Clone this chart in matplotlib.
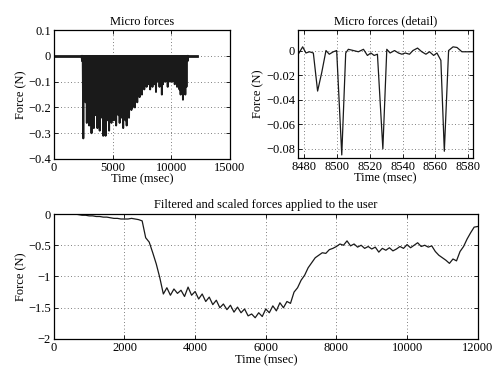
import numpy as np
import matplotlib
matplotlib.use("Agg")
import matplotlib.pyplot as plt

plt.rcParams['font.family'] = ['Liberation Serif', 'DejaVu Serif']
plt.rcParams['font.size'] = 9.0
plt.rcParams['axes.unicode_minus'] = True

LABEL_FS = 9.0

# ---------------- data ----------------
# Micro forces: spike depths, one per 100 ms from 2400 to 11400 ms
micro_t_start = 2400
micro_t_step = 100
micro_depths = [
    -0.02, -0.32, -0.15, -0.18, -0.26, -0.14, -0.27, -0.22, -0.30, -0.19,
    -0.28, -0.23, -0.18, -0.28, -0.22, -0.29, -0.17, -0.24, -0.31, -0.22,
    -0.31, -0.20, -0.25, -0.29, -0.18, -0.26, -0.21, -0.25, -0.19, -0.27,
    -0.22, -0.23, -0.26, -0.19, -0.24, -0.28, -0.21, -0.25, -0.27, -0.19,
    -0.24, -0.18, -0.21, -0.20, -0.16, -0.20, -0.14, -0.18, -0.12, -0.16,
    -0.11, -0.15, -0.12, -0.13, -0.09, -0.12, -0.05, -0.11, -0.13, -0.08,
    -0.12, -0.09, -0.11, -0.14, -0.10, -0.08, -0.12, -0.09, -0.15, -0.11,
    -0.07, -0.10, -0.09, -0.12, -0.08, -0.10, -0.06, -0.10, -0.09, -0.11,
    -0.08, -0.12, -0.10, -0.13, -0.15, -0.12, -0.17, -0.14, -0.15, -0.12,
    -0.02,
]
micro_baseline_t = [0, 12200]
micro_baseline_f = [0.0, 0.0]

# Micro forces detail
detail_t = [8477.0, 8479.2, 8481.2, 8483.3, 8485.7, 8488.3, 8490.8, 8493.4, 8495.4,
            8497.9, 8499.9, 8503.0, 8505.4, 8507.0, 8510.1, 8513.1, 8516.2, 8518.6,
            8520.7, 8522.7, 8524.7, 8528.0, 8530.4, 8532.4, 8535.1, 8537.5, 8539.6,
            8541.6, 8544.2, 8546.3, 8549.1, 8551.7, 8554.2, 8556.4, 8558.9, 8560.9,
            8563.3, 8565.4, 8568.0, 8570.7, 8573.1, 8576.1, 8581.2, 8582.6]
detail_f = [-0.002, 0.003, -0.002, -0.001, -0.002, -0.033, -0.018, 0.000, -0.003,
            -0.001, 0.000, -0.085, -0.002, 0.001, 0.000, -0.001, 0.001, -0.004,
            -0.002, -0.004, -0.003, -0.080, 0.001, -0.002, 0.000, -0.002, -0.003,
            -0.002, -0.003, 0.000, 0.002, -0.001, -0.003, -0.001, -0.004, -0.002,
            -0.008, -0.082, 0.000, 0.003, 0.0025, -0.001, -0.001, -0.001]

# Filtered and scaled forces, one sample per 100 ms from 600 to 12000 ms
filt_t_start = 600
filt_t_step = 100
filt_f = [
    0.00, -0.01, -0.02, -0.02, -0.03, -0.03, -0.04, -0.04, -0.05, -0.05,
    -0.06, -0.07, -0.07, -0.08, -0.08, -0.08, -0.07, -0.08, -0.09, -0.11,
    -0.38, -0.45, -0.62, -0.80, -1.02, -1.28, -1.18, -1.30, -1.20, -1.27,
    -1.22, -1.32, -1.17, -1.30, -1.24, -1.36, -1.28, -1.40, -1.33, -1.45,
    -1.38, -1.50, -1.44, -1.53, -1.46, -1.57, -1.49, -1.58, -1.52, -1.63,
    -1.60, -1.66, -1.58, -1.64, -1.52, -1.58, -1.47, -1.55, -1.42, -1.50,
    -1.40, -1.43, -1.25, -1.18, -1.06, -0.98, -0.86, -0.78, -0.70, -0.66,
    -0.62, -0.63, -0.57, -0.55, -0.52, -0.48, -0.50, -0.43, -0.51, -0.48,
    -0.53, -0.50, -0.55, -0.52, -0.56, -0.53, -0.61, -0.55, -0.58, -0.54,
    -0.59, -0.56, -0.52, -0.55, -0.49, -0.54, -0.50, -0.46, -0.52, -0.50,
    -0.53, -0.51, -0.60, -0.66, -0.70, -0.74, -0.79, -0.72, -0.75, -0.60,
    -0.52, -0.40, -0.30, -0.21, -0.20,
]

# ---------------- figure ----------------
fig = plt.figure(figsize=(4.94, 3.66), dpi=100)
ax1 = fig.add_axes([0.1093, 0.5656, 0.356, 0.352])
ax2 = fig.add_axes([0.603, 0.5683, 0.354, 0.350])
ax3 = fig.add_axes([0.109, 0.0738, 0.858, 0.3415])

def style(ax):
    ax.grid(True, linestyle=(0, (1, 3)), color='#555555', linewidth=0.6)
    ax.tick_params(direction='in', length=3, width=0.6, top=True, right=True, pad=2)
    for s in ax.spines.values():
        s.set_linewidth(0.9)

# Micro forces
mt = micro_t_start + micro_t_step * np.arange(len(micro_depths))
xs = np.repeat(mt, 2).astype(float)
xs[1::2] += micro_t_step * 0.5
ys = np.zeros_like(xs)
ys[0::2] = micro_depths
ax1.plot(micro_baseline_t, micro_baseline_f, color='#1a1a1a', linewidth=2.0)
ax1.plot(np.concatenate([[mt[0] - 50], xs]), np.concatenate([[0.0], ys]),
         color='#1a1a1a', linewidth=1.4)
ax1.set_xlim(0, 15000)
ax1.set_ylim(-0.4, 0.1)
ax1.set_xticks([0, 5000, 10000, 15000])
ax1.set_yticks([-0.4, -0.3, -0.2, -0.1, 0, 0.1])
ax1.set_yticklabels(['\u22120.4', '\u22120.3', '\u22120.2', '\u22120.1', '0', '0.1'])
ax1.set_title('Micro forces', pad=4, fontsize=LABEL_FS)
ax1.set_xlabel('Time (msec)', labelpad=0, fontsize=LABEL_FS)
ax1.set_ylabel('Force (N)', labelpad=1, fontsize=LABEL_FS)
style(ax1)

# Detail
ax2.plot(detail_t, detail_f, color='#1a1a1a', linewidth=0.9)
ax2.set_xlim(8476.3, 8582.7)
ax2.set_ylim(-0.0875, 0.0168)
ax2.set_xticks([8480, 8500, 8520, 8540, 8560, 8580])
ax2.set_yticks([-0.08, -0.06, -0.04, -0.02, 0])
ax2.set_yticklabels(['\u22120.08', '\u22120.06', '\u22120.04', '\u22120.02', '0'])
ax2.set_title('Micro forces (detail)', pad=4, fontsize=LABEL_FS)
ax2.set_xlabel('Time (msec)', labelpad=0, fontsize=LABEL_FS)
ax2.set_ylabel('Force (N)', labelpad=1, fontsize=LABEL_FS)
style(ax2)

# Filtered
ft = filt_t_start + filt_t_step * np.arange(len(filt_f))
ax3.plot(ft, filt_f, color='#1a1a1a', linewidth=0.9)
ax3.set_xlim(0, 12000)
ax3.set_ylim(-2, 0)
ax3.set_xticks([0, 2000, 4000, 6000, 8000, 10000, 12000])
ax3.set_yticks([-2, -1.5, -1, -0.5, 0])
ax3.set_yticklabels(['\u22122', '\u22121.5', '\u22121', '\u22120.5', '0'])
ax3.set_title('Filtered and scaled forces applied to the user', pad=4, fontsize=LABEL_FS)
ax3.set_xlabel('Time (msec)', labelpad=0.5, fontsize=LABEL_FS)
ax3.set_ylabel('Force (N)', labelpad=1, fontsize=LABEL_FS)
style(ax3)

fig.savefig('out.png', dpi=100)
